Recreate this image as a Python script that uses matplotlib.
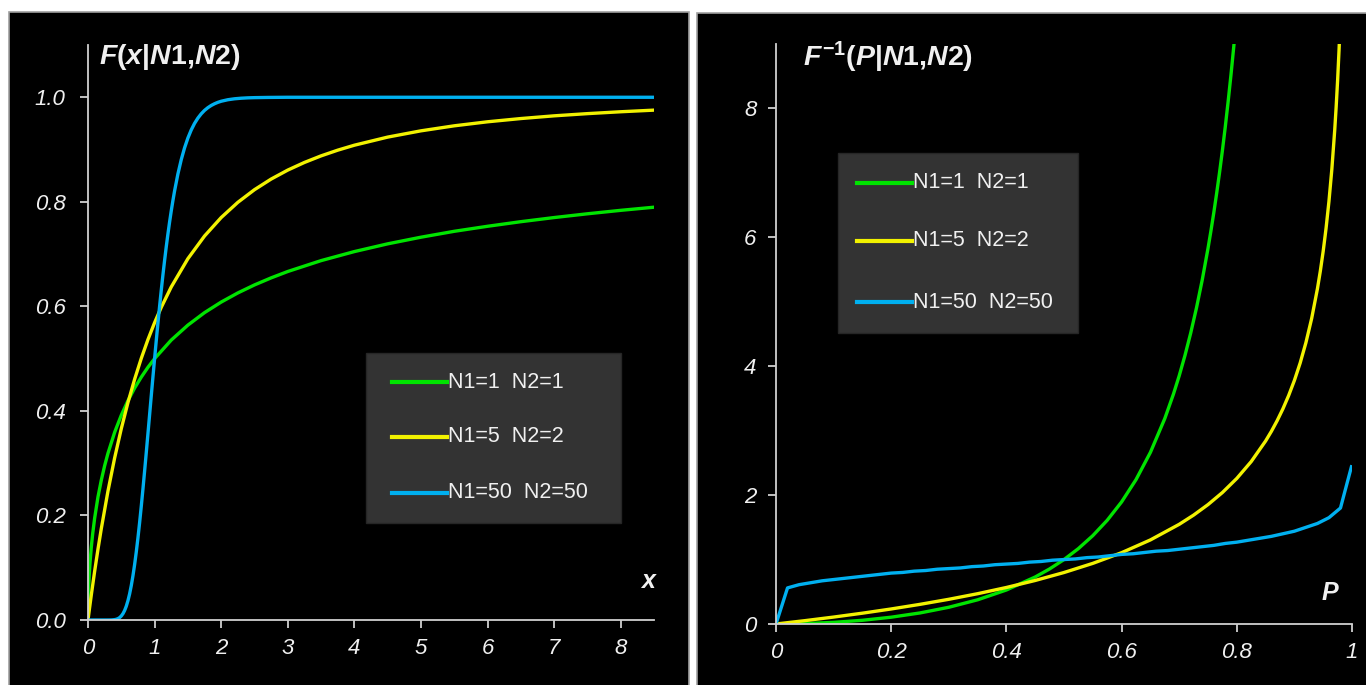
import matplotlib
matplotlib.use("Agg")
import matplotlib.pyplot as plt
from matplotlib.patches import Rectangle
from matplotlib.lines import Line2D

# ---------------- data ----------------
labels = ["N1=1  N2=1", "N1=5  N2=2", "N1=50  N2=50"]
colors = ["#00e400", "#f2f200", "#00b0f0"]

# Left panel: F(x|N1,N2)
x_green = [0, 0.002, 0.005, 0.01, 0.02, 0.03, 0.05, 0.07, 0.1, 0.15, 0.2,
           0.25, 0.3, 0.4, 0.5, 0.6, 0.7, 0.8, 0.9, 1.0,
           1.25, 1.5, 1.75, 2, 2.25, 2.5, 2.75, 3,
           3.5, 4, 4.5, 5, 5.5, 6, 6.5, 7, 7.5, 8, 8.5]
F_green = [0, 0.0285, 0.0449, 0.0635, 0.0894, 0.1092, 0.1400, 0.1647, 0.1950, 0.2355, 0.2677,
           0.2952, 0.3189, 0.3590, 0.3918, 0.4196, 0.4437, 0.4646, 0.4834, 0.5000,
           0.5355, 0.5641, 0.5880, 0.6082, 0.6257, 0.6410, 0.6545, 0.6667,
           0.6875, 0.7048, 0.7196, 0.7323, 0.7436, 0.7532, 0.7620, 0.7699, 0.7771, 0.7837, 0.7897]

x_yellow = [0, 0.02, 0.05, 0.1, 0.15, 0.2, 0.3, 0.4, 0.5, 0.6, 0.7, 0.8, 0.9, 1.0,
            1.1, 1.25, 1.5, 1.75, 2, 2.25, 2.5, 2.75, 3, 3.25, 3.5, 3.75, 4,
            4.5, 5, 5.5, 6, 6.5, 7, 7.5, 8, 8.5]
F_yellow = [0, 0.0197, 0.0483, 0.0934, 0.1356, 0.1750, 0.2467, 0.3100, 0.3661, 0.4160,
            0.4605, 0.5005, 0.5364, 0.5688, 0.5981, 0.6371, 0.6912, 0.7346, 0.7699,
            0.7990, 0.8232, 0.8435, 0.8607, 0.8753, 0.8879, 0.8988, 0.9083,
            0.9238, 0.9358, 0.9454, 0.9531, 0.9593, 0.9645, 0.9687, 0.9723, 0.9754]

x_blue = [0, 0.3, 0.35, 0.4, 0.425, 0.45, 0.475, 0.5, 0.525, 0.55, 0.575, 0.6, 0.625,
          0.65, 0.675, 0.7, 0.725, 0.75, 0.775, 0.8, 0.825, 0.85, 0.875, 0.9, 0.925,
          0.95, 0.975, 1.0, 1.025, 1.05, 1.075, 1.1, 1.125, 1.15, 1.175, 1.2, 1.225,
          1.25, 1.275, 1.3, 1.35, 1.4, 1.45, 1.5, 1.55, 1.6, 1.65, 1.7, 1.75, 1.8,
          1.85, 1.9, 1.95, 2.0, 2.1, 2.2, 2.3, 2.4, 2.5, 2.7, 3, 4, 5, 6, 7, 8, 8.5]
F_blue = [0, 0.0000, 0.0001, 0.0007, 0.0014, 0.0026, 0.0046, 0.0077, 0.0121, 0.0182,
          0.0264, 0.0370, 0.0500, 0.0659, 0.0846, 0.1060, 0.1302, 0.1570, 0.1862, 0.2175,
          0.2505, 0.2848, 0.3202, 0.3562, 0.3925, 0.4288, 0.4647, 0.5000, 0.5344, 0.5678,
          0.5999, 0.6306, 0.6599, 0.6876, 0.7138, 0.7382, 0.7611, 0.7825, 0.8023, 0.8207,
          0.8532, 0.8805, 0.9032, 0.9220, 0.9374, 0.9500, 0.9601, 0.9683, 0.9749, 0.9801,
          0.9843, 0.9876, 0.9903, 0.9924, 0.9953, 0.9971, 0.9982, 0.9989, 0.9993, 0.9997,
          1.0, 1.0, 1.0, 1.0, 1.0, 1.0, 1.0]

# Right panel: F^-1(P|N1,N2)
P_green = [0, 0.05, 0.1, 0.15, 0.2, 0.25, 0.3, 0.35, 0.4, 0.45,
           0.475, 0.5, 0.525, 0.55, 0.575, 0.6, 0.625, 0.65, 0.675,
           0.69, 0.7, 0.71, 0.72, 0.73, 0.74, 0.75,
           0.755, 0.76, 0.765, 0.77, 0.775, 0.78, 0.785, 0.79, 0.795, 0.80]
Q_green = [0, 0.0062, 0.0251, 0.0576, 0.1056, 0.1716, 0.2596, 0.3755, 0.5279, 0.7295,
           0.8545, 1.0, 1.1703, 1.3709, 1.6091, 1.8944, 2.2398, 2.6629, 3.1885,
           3.5671, 3.8518, 4.1667, 4.516, 4.9052, 5.340, 5.828,
           6.0953, 6.379, 6.6815, 7.003, 7.3473, 7.715, 8.1104, 8.531, 8.9841, 9.472]

P_yellow = [0, 0.05, 0.1, 0.15, 0.2, 0.25, 0.3, 0.35, 0.4, 0.45, 0.5, 0.55, 0.6, 0.65, 0.7,
            0.725, 0.75, 0.775, 0.8, 0.825, 0.85, 0.86, 0.87, 0.88, 0.89, 0.9,
            0.91, 0.92, 0.93, 0.94, 0.945, 0.95, 0.955, 0.96, 0.965, 0.97,
            0.9725, 0.975, 0.9775, 0.98]
Q_yellow = [0, 0.0518, 0.1076, 0.1679, 0.2334, 0.3049, 0.3834, 0.4701, 0.5668, 0.6754,
            0.7988, 0.9408, 1.1067, 1.3046, 1.5466,
            1.6898, 1.8527, 2.0400, 2.2591, 2.5203, 2.8396, 2.9890, 3.1541, 3.3380, 3.5447,
            3.7797, 4.0500, 4.3661, 4.7427, 5.2033, 5.4761, 5.7861, 6.1428, 6.5597, 7.0569,
            7.6645, 8.0247, 8.4333, 8.9043, 9.4544]

P_blue = [0, 0.02, 0.04, 0.06, 0.08, 0.10, 0.12, 0.14, 0.16, 0.18, 0.20, 0.22, 0.24, 0.26,
          0.28, 0.30, 0.32, 0.34, 0.36, 0.38, 0.40, 0.42, 0.44, 0.46, 0.48, 0.50, 0.52,
          0.54, 0.56, 0.58, 0.60, 0.62, 0.64, 0.66, 0.68, 0.70, 0.72, 0.74, 0.76, 0.78,
          0.80, 0.82, 0.84, 0.86, 0.88, 0.90, 0.92, 0.94, 0.96, 0.98, 0.999]
Q_blue = [0, 0.56, 0.61, 0.64, 0.67, 0.69, 0.71, 0.73, 0.75, 0.77, 0.79, 0.80, 0.82,
          0.83, 0.85, 0.86, 0.87, 0.89, 0.90, 0.92, 0.93, 0.94, 0.96, 0.97, 0.99, 1.00,
          1.01, 1.03, 1.04, 1.06, 1.08, 1.09, 1.11, 1.13, 1.14, 1.16, 1.18, 1.20, 1.22,
          1.25, 1.27, 1.30, 1.33, 1.36, 1.40, 1.44, 1.50, 1.56, 1.65, 1.80, 2.44]

left_xticks = [0, 1, 2, 3, 4, 5, 6, 7, 8]
left_xticklabels = ["0", "1", "2", "3", "4", "5", "6", "7", "8"]
left_yticks = [0, 0.2, 0.4, 0.6, 0.8, 1.0]
left_yticklabels = ["0.0", "0.2", "0.4", "0.6", "0.8", "1.0"]
right_xticks = [0, 0.2, 0.4, 0.6, 0.8, 1.0]
right_xticklabels = ["0", "0.2", "0.4", "0.6", "0.8", "1"]
right_yticks = [0, 2, 4, 6, 8]
right_yticklabels = ["0", "2", "4", "6", "8"]

# ---------------- style ----------------
W, H = 1366, 685
plt.rcParams["font.family"] = ["Liberation Sans", "DejaVu Sans"]
plt.rcParams["mathtext.fontset"] = "custom"
plt.rcParams["mathtext.rm"] = "Liberation Sans:bold"
plt.rcParams["mathtext.it"] = "Liberation Sans:italic:bold"
plt.rcParams["mathtext.bf"] = "Liberation Sans:bold"

TXT = "#f0f0f0"
AX = "#d0d0d0"
LW = 2.4
TICK_FS = 16

fig = plt.figure(figsize=(W / 100, H / 100), dpi=100, facecolor="white")


def fx(px):
    return px / W


def fy(py):
    return 1 - py / H


def frect(x0, y0, x1, y1, z, **kw):
    r = Rectangle((fx(x0), fy(y1)), fx(x1) - fx(x0), fy(y0) - fy(y1),
                  transform=fig.transFigure, zorder=z, **kw)
    fig.add_artist(r)
    return r


# black panels (behind the axes)
frect(9, 12, 689, 690, -10, facecolor="black", edgecolor="#a0a0a0", linewidth=1.2)
frect(697, 13, 1370, 690, -10, facecolor="black", edgecolor="#a0a0a0", linewidth=1.2)


def make_axes(x0, x1, y0, y1):
    ax = fig.add_axes([fx(x0), fy(y1), fx(x1) - fx(x0), fy(y0) - fy(y1)])
    ax.patch.set_visible(False)
    for s in ["top", "right"]:
        ax.spines[s].set_visible(False)
    for s in ["left", "bottom"]:
        ax.spines[s].set_color(AX)
        ax.spines[s].set_linewidth(1.3)
    ax.tick_params(direction="out", length=6, width=1.3, color=AX, labelcolor=TXT)
    return ax


# ---------- left panel ----------
axL = make_axes(88, 654, 45, 620)
axL.plot(x_green, F_green, color=colors[0], lw=LW, solid_joinstyle="round")
axL.plot(x_yellow, F_yellow, color=colors[1], lw=LW, solid_joinstyle="round")
axL.plot(x_blue, F_blue, color=colors[2], lw=LW, solid_joinstyle="round")
axL.set_xlim(0, 8.5)
axL.set_ylim(0, 1.1)
axL.set_xticks(left_xticks)
axL.set_xticklabels(left_xticklabels, fontsize=TICK_FS, style="italic")
axL.set_yticks(left_yticks)
axL.set_yticklabels(left_yticklabels, fontsize=TICK_FS, style="italic")
axL.tick_params(axis="y", pad=10)
axL.tick_params(axis="x", pad=7)

fig.text(fx(99), fy(57), r"$F(x|N1{,}N2)$", fontsize=20.5, color=TXT,
         ha="left", va="center")
fig.text(fx(648), fy(581), "x", fontsize=18, color=TXT, style="italic",
         weight="bold", ha="center", va="center")

# ---------- right panel ----------
axR = make_axes(776, 1352, 44, 624)
axR.plot(P_green, Q_green, color=colors[0], lw=LW, solid_joinstyle="round")
axR.plot(P_yellow, Q_yellow, color=colors[1], lw=LW, solid_joinstyle="round")
axR.plot(P_blue, Q_blue, color=colors[2], lw=LW, solid_joinstyle="round")
axR.set_xlim(0, 1)
axR.set_ylim(0, 9)
axR.set_xticks(right_xticks)
axR.set_xticklabels(right_xticklabels, fontsize=TICK_FS, style="italic")
axR.set_yticks(right_yticks)
axR.set_yticklabels(right_yticklabels, fontsize=TICK_FS, style="italic")
axR.tick_params(axis="y", pad=8)
axR.tick_params(axis="x", pad=7)

fig.text(fx(803), fy(57), r"$F^{-1}(P|N1{,}N2)$", fontsize=20.5, color=TXT,
         ha="left", va="center")
fig.text(fx(1330), fy(593), "P", fontsize=18, color=TXT, style="italic",
         weight="bold", ha="center", va="center")


# ---------- legends ----------
def legend_box(x0, y0, x1, y1, lx0, lx1, rows):
    frect(x0, y0, x1, y1, 5, facecolor="#333333", edgecolor="#262626", linewidth=1)
    for (ry, lab, col) in zip(rows, labels, colors):
        fig.add_artist(Line2D([fx(lx0), fx(lx1)], [fy(ry), fy(ry)], color=col,
                              lw=3, transform=fig.transFigure, zorder=6))
        fig.text(fx(lx1 + 1), fy(ry), lab, fontsize=15.5, color=TXT,
                 ha="left", va="center", zorder=6)


legend_box(366, 353, 621, 523, 392, 447, [382, 437, 493])
legend_box(838, 153, 1078, 333, 857, 912, [183, 241, 302])

fig.savefig("out.png", dpi=100, facecolor="white")
